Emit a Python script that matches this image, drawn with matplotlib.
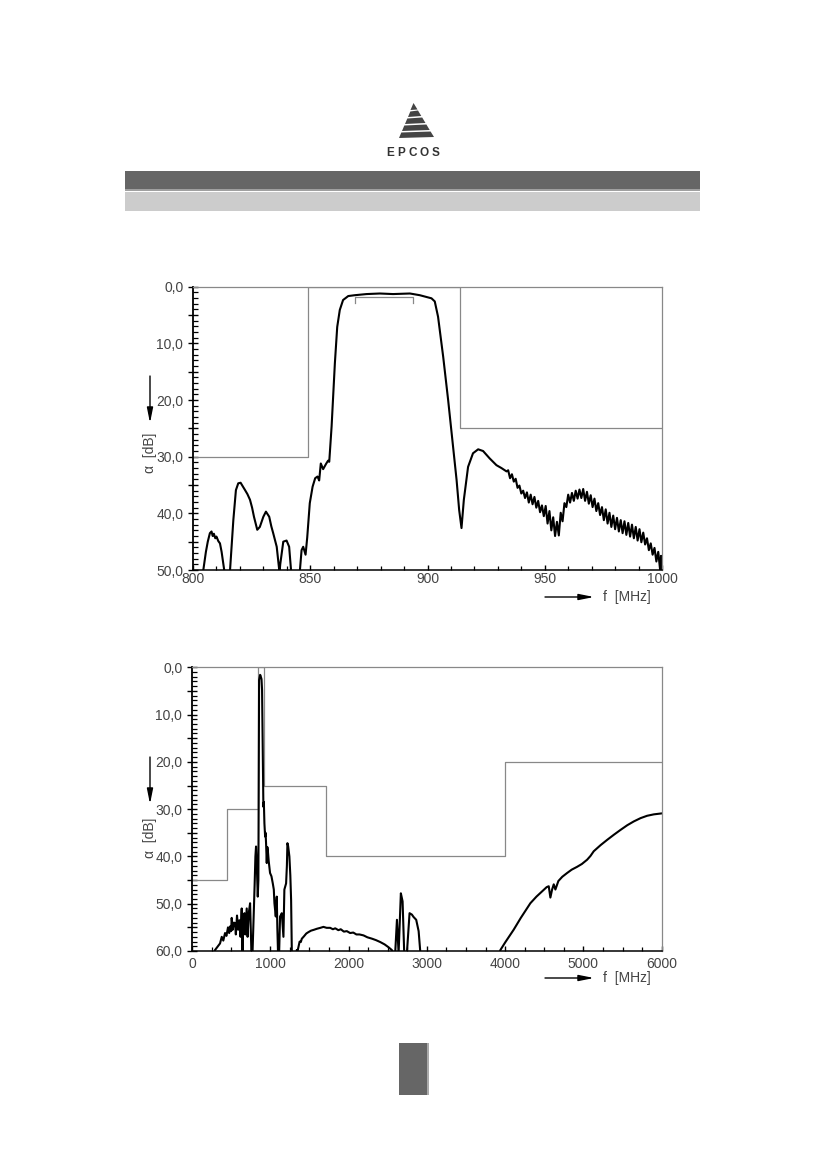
import matplotlib
matplotlib.use('Agg')
import matplotlib.pyplot as plt
from matplotlib.ticker import MultipleLocator, FuncFormatter
from matplotlib.patches import Polygon, Rectangle

plt.rcParams['font.family'] = ['Liberation Sans', 'DejaVu Sans']

# ---- data: passband detail (800..1000 MHz) ----
f_top = [803.5, 804.4, 805.5, 806.3, 807.2, 807.9, 808.4, 808.9, 809.5, 810.0,
         810.8, 811.5, 812.2, 813.3, 814.0, 815.0, 815.8, 817.2, 818.3, 819.3,
         820.3, 821.2, 822.2, 823.2, 824.3, 825.2, 826.0, 827.4, 828.5, 830.0,
         831.1, 832.5, 833.4, 834.2, 835.7, 836.6, 836.9, 837.2, 838.5, 839.9,
         841.0, 841.8, 842.5, 845.0, 845.6, 846.3, 847.0, 848.0, 848.7, 849.8,
         851.0, 852.1, 853.1, 853.8, 854.5, 855.5, 856.7, 857.6, 858.1, 859.1,
         860.5, 861.5, 862.6, 864.0, 866.2, 869.0, 874.0, 879.7, 885.3, 892.5,
         896.7, 901.7, 903.1, 904.5, 906.7, 908.8, 910.9, 912.4, 913.5, 914.5,
         915.5, 917.3, 919.4, 921.6, 923.7, 926.5, 929.4, 931.5, 933.7,
         934.4, 935.2, 936.0, 936.8, 937.6, 938.4, 939.2, 940.0, 940.8, 941.6,
         942.4, 943.2, 944.0, 944.8, 945.6, 946.4, 947.2, 948.0, 948.8, 949.6,
         950.4, 951.2, 952.0, 952.8, 953.6, 954.4, 955.2, 956.0, 956.8, 957.6,
         958.4, 959.2, 960.0, 960.8, 961.6, 962.4, 963.2, 964.0, 964.8, 965.6,
         966.4, 967.2, 968.0, 968.8, 969.6, 970.4, 971.2, 972.0, 972.8, 973.6,
         974.4, 975.2, 976.0, 976.8, 977.6, 978.4, 979.2, 980.0, 980.8, 981.6,
         982.4, 983.2, 984.0, 984.8, 985.6, 986.4, 987.2, 988.0, 988.8, 989.6,
         990.4, 991.2, 992.0, 992.8, 993.6, 994.4, 995.2, 996.0, 996.8, 997.6,
         998.4, 999.2, 999.6, 1000.0]
a_top = [52.0, 50.0, 46.8, 45.0, 43.5, 43.2, 44.0, 43.6, 44.4, 44.1,
         44.9, 45.3, 46.8, 50.0, 52.0, 52.0, 50.0, 41.2, 35.9, 34.7,
         34.6, 35.2, 35.9, 36.6, 37.6, 39.0, 40.6, 42.9, 42.4, 40.6,
         39.7, 40.6, 42.3, 43.5, 45.9, 49.4, 50.5, 49.0, 45.0, 44.8,
         45.9, 50.0, 52.0, 52.0, 50.0, 46.5, 45.9, 47.3, 44.3, 38.2,
         35.3, 33.8, 33.5, 34.2, 31.2, 32.2, 31.3, 30.7, 30.9, 24.7,
         13.5, 7.1, 4.1, 2.35, 1.65, 1.5, 1.3, 1.2, 1.3, 1.2,
         1.5, 2.05, 2.6, 5.3, 12.4, 20.0, 28.2, 34.1, 39.4, 42.6,
         37.6, 31.8, 29.4, 28.7, 29.0, 30.3, 31.5, 32.0, 32.6,
         32.4, 33.8, 33.1, 34.4, 33.9, 35.5, 35.1, 36.5, 36.0, 37.3,
         36.3, 38.1, 36.7, 38.4, 37.1, 39.0, 37.8, 39.8, 38.6, 40.5,
         38.7, 41.8, 39.6, 43.0, 40.7, 44.0, 41.5, 43.9, 39.9, 41.4,
         38.2, 38.9, 36.7, 38.1, 36.4, 37.8, 36.0, 37.4, 35.8, 37.3,
         35.7, 37.8, 36.2, 38.3, 36.8, 38.9, 37.4, 39.6, 38.2, 40.3,
         38.9, 41.2, 39.3, 41.8, 39.9, 42.4, 40.4, 42.8, 40.8, 43.2,
         41.2, 43.5, 41.4, 43.8, 41.7, 44.1, 42.0, 44.4, 42.4, 44.8,
         42.8, 45.1, 43.4, 45.5, 44.4, 46.5, 45.3, 47.3, 46.1, 48.5,
         46.8, 50.0, 47.5, 50.5]

mask_top_f = [800, 849, 849, 914, 914, 1000]
mask_top_a = [30, 30, 0, 0, 25, 25]
pass_f = [869, 869, 894, 894]
pass_a = [2.9, 1.8, 1.8, 2.9]

# ---- data: wideband (0..6000 MHz) ----
f_bot = [250, 294, 330, 358, 380, 400, 422, 440, 460, 475,
         486, 500, 507, 520, 535, 550, 560, 575, 590, 605,
         620, 635, 645, 655, 670, 680, 699, 710, 725, 742,
         752, 760, 772, 784, 800, 810, 818, 828, 840, 848,
         857, 870, 874, 888, 895, 904, 912, 918, 925, 934,
         940, 946, 955, 962, 968, 980, 997, 1015, 1032, 1045,
         1053, 1070, 1083, 1090, 1100, 1112, 1125, 1140, 1147, 1160,
         1168, 1180, 1202, 1212, 1219, 1228, 1244, 1256, 1266, 1275,
         1285, 1330, 1338, 1350, 1360, 1375, 1390, 1403, 1430, 1460,
         1488, 1520, 1560, 1595, 1640, 1679, 1720, 1765, 1800, 1830,
         1870, 1900, 1940, 1978, 2020, 2060, 2100, 2140, 2191, 2240,
         2300, 2350, 2404, 2460, 2510, 2553, 2580, 2596, 2618, 2639,
         2668, 2690, 2711, 2745, 2779, 2809, 2830, 2864, 2895, 2916,
         2925, 3910, 3939, 4000, 4109, 4200, 4322, 4400, 4472, 4530,
         4557, 4578, 4600, 4621, 4642, 4680, 4730, 4792, 4850, 4919,
         4980, 5047, 5090, 5132, 5220, 5303, 5390, 5473, 5560, 5643,
         5730, 5814, 5900, 6000]
a_bot = [62.0, 59.8, 59.0, 58.4, 57.0, 57.8, 56.2, 56.8, 55.0, 56.2,
         54.8, 55.8, 53.0, 55.5, 54.0, 54.1, 56.5, 52.5, 55.5, 53.5,
         57.0, 51.0, 61.0, 54.0, 52.0, 56.5, 51.0, 57.0, 52.0, 49.9,
         56.0, 61.0, 61.0, 54.8, 46.0, 40.0, 37.9, 42.0, 48.5, 45.0,
         2.7, 1.6, 1.7, 2.5, 4.8, 17.5, 29.5, 28.5, 33.0, 35.8,
         35.0, 37.2, 41.4, 38.0, 38.6, 41.0, 43.5, 44.2, 45.7, 47.0,
         49.9, 52.7, 48.5, 55.0, 61.0, 61.0, 52.7, 52.3, 52.0, 55.0,
         57.0, 47.0, 45.7, 42.0, 37.2, 37.8, 40.0, 44.0, 49.2, 60.0,
         62.0, 62.0, 59.8, 59.9, 59.1, 58.0, 58.1, 57.4, 56.9, 56.3,
         56.0, 55.7, 55.5, 55.3, 55.1, 54.9, 55.1, 55.1, 55.4, 55.2,
         55.6, 55.4, 55.9, 55.8, 56.2, 56.1, 56.5, 56.5, 56.7, 57.1,
         57.4, 57.7, 58.1, 58.6, 59.2, 59.8, 61.0, 60.3, 53.4, 60.5,
         47.8, 49.5, 60.5, 60.5, 52.0, 52.3, 52.8, 53.4, 55.8, 60.0,
         62.0, 62.0, 59.8, 58.2, 55.5, 53.0, 49.9, 48.5, 47.4, 46.5,
         46.3, 48.7, 47.0, 45.9, 47.0, 45.2, 44.3, 43.5, 42.8, 42.2,
         41.6, 40.7, 39.9, 38.9, 37.6, 36.5, 35.4, 34.4, 33.4, 32.6,
         31.9, 31.4, 31.1, 30.9]

mask_bot_f = [0, 450, 450, 849, 849, 914, 914, 1710, 1710, 4000, 4000, 6000]
mask_bot_a = [45, 45, 30, 30, 0, 0, 25, 25, 40, 40, 20, 20]

W, H = 826, 1169
fig = plt.figure(figsize=(W / 100, H / 100), dpi=100)

# page decoration in pixel coordinates
deco = fig.add_axes([0, 0, 1, 1])
deco.set_xlim(0, W)
deco.set_ylim(H, 0)
deco.axis('off')
deco.add_patch(Rectangle((125, 171), 575, 18, color='#666666', lw=0))
deco.add_patch(Rectangle((125, 189), 575, 1.5, color='#a0a0a0', lw=0))
deco.add_patch(Rectangle((125, 192), 575, 19, color='#cccccc', lw=0))
deco.add_patch(Rectangle((399, 1043), 28, 52, color='#666666', lw=0))
deco.add_patch(Rectangle((427, 1043), 1.5, 52, color='#aaaaaa', lw=0))

# logo
bands = [
    [(413.5, 103), (410.5, 110), (417.5, 109.5)],
    [(410.3, 111.5), (408.0, 117), (421.3, 116), (418.0, 110.5)],
    [(407.3, 118.5), (405.0, 124), (425.5, 123), (422.2, 117.5)],
    [(404.3, 125.5), (402.0, 131), (429.7, 130), (426.4, 124.5)],
    [(401.3, 132.5), (399.0, 138), (434.0, 137), (430.6, 131.5)],
]
for b in bands:
    deco.add_patch(Polygon(b, closed=True, color='#444444', lw=0))
for i, ch in enumerate('EPCOS'):
    deco.text(390 + 11.3 * i, 153.5, ch, ha='center', va='center',
              fontsize=8.5, fontweight='bold', color='#333333')

# axis captions and arrows
arrow = dict(arrowstyle='-|>,head_length=0.9,head_width=0.18', color='k',
             lw=1, shrinkA=0, shrinkB=0)
for y0, y1, ylab, xy in [(376, 423, 453, 597), (757, 804, 838, 978)]:
    deco.annotate('', xy=(150, y1), xytext=(150, y0), arrowprops=arrow)
    deco.text(150, ylab, '\u03b1  [dB]', rotation=90, ha='center', va='center',
              fontsize=10, color='#444444')
    deco.annotate('', xy=(594, xy), xytext=(545, xy), arrowprops=arrow)
    deco.text(603, xy, 'f  [MHz]', ha='left', va='center',
              fontsize=10, color='#444444')


def comma(v, pos):
    if abs(v % 10) < 1e-6:
        return ('%.1f' % v).replace('.', ',')
    return ''


def style(ax, xpad):
    ax.spines['top'].set_color('#888888')
    ax.spines['right'].set_color('#888888')
    ax.spines['top'].set_linewidth(0.9)
    ax.spines['right'].set_linewidth(0.9)
    ax.spines['left'].set_linewidth(1.3)
    ax.spines['bottom'].set_linewidth(1.1)
    ax.yaxis.set_major_locator(MultipleLocator(5))
    ax.yaxis.set_minor_locator(MultipleLocator(1))
    ax.yaxis.set_major_formatter(FuncFormatter(comma))
    ax.tick_params(axis='y', which='major', direction='inout', length=7,
                   width=1, pad=3.5, labelsize=10, labelcolor='#444444')
    ax.tick_params(axis='y', which='minor', direction='in', length=3.6, width=0.9)
    ax.tick_params(axis='x', which='major', direction='in', length=3.5,
                   width=1, pad=xpad, labelsize=10, labelcolor='#444444')
    ax.tick_params(axis='x', which='minor', direction='in', length=3, width=0.9)


ax1 = fig.add_axes([193 / W, 1 - 570 / H, 469 / W, 283.3 / H])
ax1.plot(mask_top_f, mask_top_a, color='#888888', lw=0.9)
ax1.plot(pass_f, pass_a, color='#888888', lw=0.9)
ax1.plot(f_top, a_top, color='black', lw=1.5)
ax1.set_xlim(800, 1000)
ax1.set_ylim(50, 0)
ax1.xaxis.set_major_locator(MultipleLocator(50))
ax1.xaxis.set_minor_locator(MultipleLocator(10))
style(ax1, 1.5)

ax2 = fig.add_axes([192 / W, 1 - 951 / H, 469.7 / W, 283.7 / H])
ax2.plot(mask_bot_f, mask_bot_a, color='#888888', lw=0.9)
ax2.plot(f_bot, a_bot, color='black', lw=1.5)
ax2.set_xlim(0, 6000)
ax2.set_ylim(60, 0)
ax2.xaxis.set_major_locator(MultipleLocator(1000))
ax2.xaxis.set_minor_locator(MultipleLocator(250))
style(ax2, 4)

fig.savefig('out.png', dpi=100)
